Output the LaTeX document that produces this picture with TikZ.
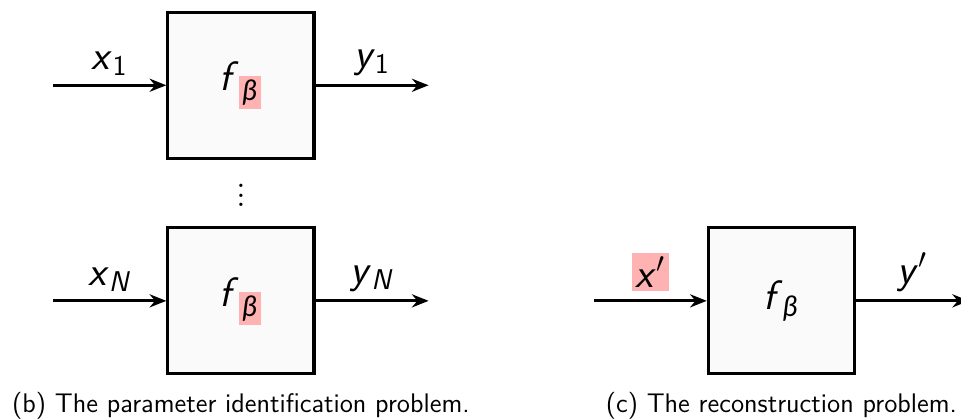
\documentclass[tikz,border=0pt]{standalone}
\usepackage{fontspec}
\usetikzlibrary{arrows.meta,calc,positioning}
\newfontfamily\grkfont{Lato}
\definecolor{BoxClr}{rgb}{0.98,0.98,0.98}
\definecolor{HlClr}{rgb}{1,0.7,0.7}
\newcommand{\hlbox}[1]{{\setlength{\fboxsep}{1.5pt}\colorbox{HlClr}{#1}}}
\newcommand{\sv}[1]{\textsf{\textit{#1}}}
\newcommand{\bet}{{\grkfont\itshape β}}

\begin{document}
\begin{tikzpicture}[
  block/.style={draw,line width=1.3pt,fill=BoxClr,minimum size=2.16cm,font=\LARGE},
  sig/.style={line width=1.3pt,-{Stealth[length=7pt,width=5.5pt]}},
  lbl/.style={midway,above,font=\LARGE},
  capt/.style={font=\sffamily\fontsize{11.3}{13}\selectfont}]
\useasboundingbox (0,0) rectangle (14.2,-6.19);

\node[block] (f1) at (3.56,-1.26) {\sv{f}\textsubscript{\hlbox{\bet}}};
\node[block,below=0.98cm of f1] (fN) {\sv{f}\textsubscript{\hlbox{\bet}}};
\node[block,right=5.78cm of fN] (fR) {\sv{f}\textsubscript{\bet}};

\coordinate[left=1.67cm of f1.west] (in1);
\coordinate[right=1.67cm of f1.east] (out1);
\coordinate[left=1.67cm of fN.west] (inN);
\coordinate[right=1.67cm of fN.east] (outN);
\coordinate[left=1.67cm of fR.west] (inR);
\coordinate[right=1.67cm of fR.east] (outR);

\draw[sig] (in1) -- (f1) node[lbl] {\sv{x}\textsubscript{\sffamily 1}};
\draw[sig] (f1) -- (out1) node[lbl] {\sv{y}\textsubscript{\sffamily 1}};
\draw[sig] (inN) -- (fN) node[lbl] {\sv{x}\textsubscript{\sv{N}}};
\draw[sig] (fN) -- (outN) node[lbl] {\sv{y}\textsubscript{\sv{N}}};
\draw[sig] (inR) -- (fR) node[lbl] {\hlbox{\sv{x}$'$}};
\draw[sig] (fR) -- (outR) node[lbl] {\sv{y}$'$};

\node[font=\Large,yshift=2pt] (dots) at ($(f1.south)!0.5!(fN.north)$) {$\vdots$};

\node[capt,below=0.12cm of fN] (captB) {(b) The parameter identification problem.};
\node[capt,below=0.12cm of fR] (captC) {(c) The reconstruction problem.};

\end{tikzpicture}
\end{document}
